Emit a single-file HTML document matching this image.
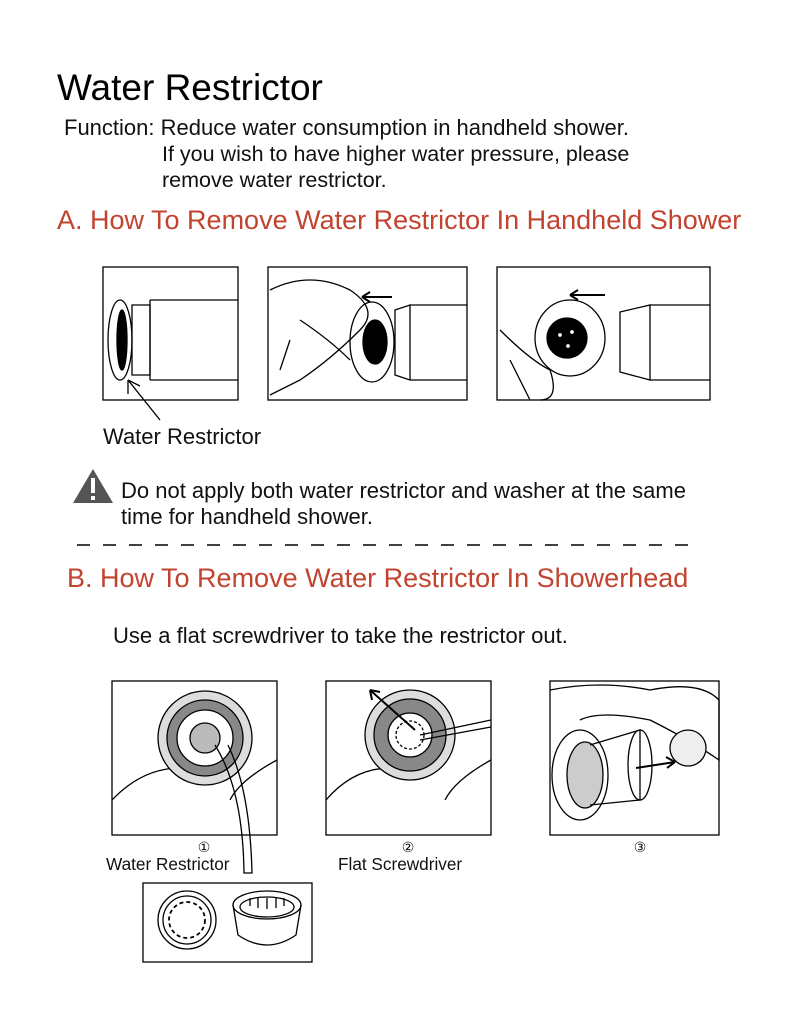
<!DOCTYPE html>
<html><head><meta charset="utf-8"><style>
html,body{margin:0;padding:0;background:#fff;}
svg{display:block;}
text{font-family:"Liberation Sans",Arial,sans-serif;}
</style></head><body>
<svg width="800" height="1029" viewBox="0 0 800 1029" xmlns="http://www.w3.org/2000/svg">
<rect width="800" height="1029" fill="#fff"/>
<text x="57" y="100" font-size="37" fill="#000">Water Restrictor</text>
<text x="64" y="135" font-size="22" fill="#111">Function: Reduce water consumption in handheld shower.</text>
<text x="162" y="161" font-size="21.5" fill="#111">If you wish to have higher water pressure, please</text>
<text x="162" y="187" font-size="21.5" fill="#111">remove water restrictor.</text>
<text x="57" y="229" font-size="27" fill="#c2432f">A. How To Remove Water Restrictor In Handheld Shower</text>

<g fill="none" stroke="#000" stroke-width="1.3">
<rect x="103" y="267" width="135" height="133"/>
<rect x="268" y="267" width="199" height="133"/>
<rect x="497" y="267" width="213" height="133"/>
<path d="M150 300 L238 300 M150 380 L238 380 M150 300 L150 380"/>
<path d="M132 305 L150 305 L150 375 L132 375 Z"/>
<ellipse cx="120" cy="340" rx="12" ry="40"/>
<ellipse cx="122" cy="340" rx="5" ry="30" fill="#000"/>
<path d="M128 380 L160 420 M128 380 L128 394 M128 380 L140 386"/>
<path d="M410 305 L467 305 M410 380 L467 380 M395 310 L410 305 L410 380 L395 375 Z"/>
<ellipse cx="372" cy="342" rx="22" ry="40"/>
<ellipse cx="375" cy="342" rx="12" ry="22" fill="#000"/>
<path d="M270 290 Q310 270 350 290 Q380 310 360 330 Q330 360 300 380 L270 395"/>
<path d="M300 320 Q330 340 350 360 M290 340 L280 370"/>
<path d="M362 297 L392 297 M362 297 L370 292 M362 297 L370 302" stroke-width="2"/>
<path d="M650 305 L710 305 M650 380 L710 380 M620 312 L650 305 L650 380 L620 372 Z"/>
<ellipse cx="570" cy="338" rx="35" ry="38"/>
<circle cx="567" cy="338" r="20" fill="#000"/>
<circle cx="560" cy="335" r="2.5" fill="#fff"/><circle cx="572" cy="332" r="2.5" fill="#fff"/><circle cx="568" cy="346" r="2.5" fill="#fff"/>
<path d="M500 330 Q530 360 550 370 Q560 400 540 400 M510 360 Q520 380 530 400"/>
<path d="M570 295 L605 295 M570 295 L578 290 M570 295 L578 300" stroke-width="2"/>
</g>
<text x="103" y="444" font-size="22" fill="#111">Water Restrictor</text>
<polygon points="93,469 113,503 73,503" fill="#555"/>
<rect x="91" y="478" width="4" height="15" fill="#fff"/><rect x="91" y="496" width="4" height="4" fill="#fff"/>
<text x="121" y="498" font-size="22" fill="#111">Do not apply both water restrictor and washer at the same</text>
<text x="121" y="524" font-size="22" fill="#111">time for handheld shower.</text>
<line x1="77" y1="545" x2="700" y2="545" stroke="#000" stroke-width="1.5" stroke-dasharray="13,13"/>
<text x="67" y="587" font-size="27" fill="#c2432f">B. How To Remove Water Restrictor In Showerhead</text>
<text x="113" y="643" font-size="22" fill="#111">Use a flat screwdriver to take the restrictor out.</text>

<g fill="none" stroke="#000" stroke-width="1.3">
<rect x="112" y="681" width="165" height="154"/>
<rect x="326" y="681" width="165" height="154"/>
<rect x="550" y="681" width="169" height="154"/>
<rect x="143" y="883" width="169" height="79"/>
<path d="M112 800 Q150 760 200 770 M277 760 Q240 780 230 800"/>
<circle cx="205" cy="738" r="47" fill="#ddd"/>
<circle cx="205" cy="738" r="38" fill="#888"/>
<circle cx="205" cy="738" r="28" fill="#fff"/>
<circle cx="205" cy="738" r="15" fill="#bbb"/>
<path d="M215 745 Q243 790 244 873 L252 873 Q250 790 228 745"/>
<path d="M326 800 Q360 760 410 770 M491 760 Q455 780 445 800"/>
<circle cx="410" cy="735" r="45" fill="#ddd"/>
<circle cx="410" cy="735" r="36" fill="#888"/>
<circle cx="410" cy="735" r="22" fill="#fff"/>
<circle cx="410" cy="735" r="14" stroke-dasharray="3,2"/>
<path d="M420 735 L491 720 M420 740 L491 727" />
<path d="M415 730 L370 690 M370 690 L372 700 M370 690 L380 692" stroke-width="2"/>
<path d="M550 690 Q600 680 650 690 Q700 680 719 700 L719 760 Q690 740 650 720 Q600 710 580 720"/>
<ellipse cx="580" cy="775" rx="28" ry="45"/>
<ellipse cx="585" cy="775" rx="18" ry="33" fill="#ccc"/>
<path d="M590 745 L640 730 L640 800 L590 805"/>
<ellipse cx="640" cy="765" rx="12" ry="35"/>
<circle cx="688" cy="748" r="18" fill="#eee"/>
<path d="M636 768 L675 762 M675 762 L666 757 M675 762 L667 768" stroke-width="2"/>
<circle cx="187" cy="920" r="29"/><circle cx="187" cy="920" r="24"/>
<circle cx="187" cy="920" r="18" stroke-dasharray="4,3" stroke-width="1.8"/>
<ellipse cx="267" cy="905" rx="34" ry="14"/>
<ellipse cx="267" cy="907" rx="27" ry="10"/>
<path d="M233 905 L238 935 Q267 955 296 935 L301 905"/>
<path d="M250 906 L250 898 M258 908 L258 898 M267 909 L267 898 M276 908 L276 898 M284 906 L284 898"/>
</g>
<text x="204" y="852" font-size="14" text-anchor="middle" fill="#111">①</text>
<text x="408" y="852" font-size="14" text-anchor="middle" fill="#111">②</text>
<text x="640" y="852" font-size="14" text-anchor="middle" fill="#111">③</text>
<text x="106" y="870" font-size="17.2" fill="#111">Water Restrictor</text>
<text x="338" y="870" font-size="17.2" fill="#111">Flat Screwdriver</text>
</svg>
</body></html>
